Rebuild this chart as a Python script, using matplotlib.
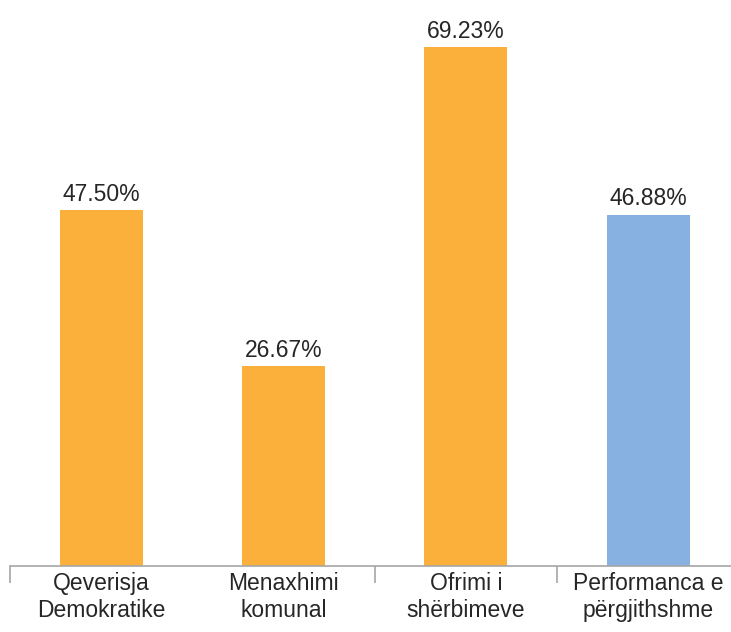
import matplotlib.pyplot as plt

plt.rcParams['font.family'] = ['Liberation Sans Narrow', 'Liberation Sans', 'DejaVu Sans']

categories = ['Qeverisja\nDemokratike', 'Menaxhimi\nkomunal', 'Ofrimi i\nshërbimeve', 'Performanca e\npërgjithshme']
values = [47.50, 26.67, 69.23, 46.88]
colors = ['#FBB03B', '#FBB03B', '#FBB03B', '#87B1E1']

fig = plt.figure(figsize=(7.31, 6.32), dpi=100)
ax = fig.add_axes([10/731, 66/632, 721/731, 566/632])

x = range(len(values))
bars = ax.bar(x, values, width=0.455, color=colors)
for i, v in enumerate(values):
    ax.annotate('%.2f%%' % v, (i, v), xytext=(0, 3), textcoords='offset points',
                ha='center', va='bottom', fontsize=16.5, color='#262626')

ax.set_xlim(-0.5, -0.5 + 721/182.3)
ax.set_ylim(0, 75.5)
for s in ['top', 'right', 'left']:
    ax.spines[s].set_visible(False)
ax.spines['bottom'].set_color('#A6A6A6')
ax.spines['bottom'].set_linewidth(1.2)
ax.set_yticks([])
ax.set_xticks(list(x))
ax.set_xticklabels(categories, fontsize=16.5, color='#262626', linespacing=1.25)
ax.tick_params(axis='x', which='major', length=0, pad=4)
ax.set_xticks([-0.5, 1.5, 2.5], minor=True)
ax.tick_params(axis='x', which='minor', length=12, width=1.2, color='#A6A6A6')

fig.savefig('out.png', dpi=100)
